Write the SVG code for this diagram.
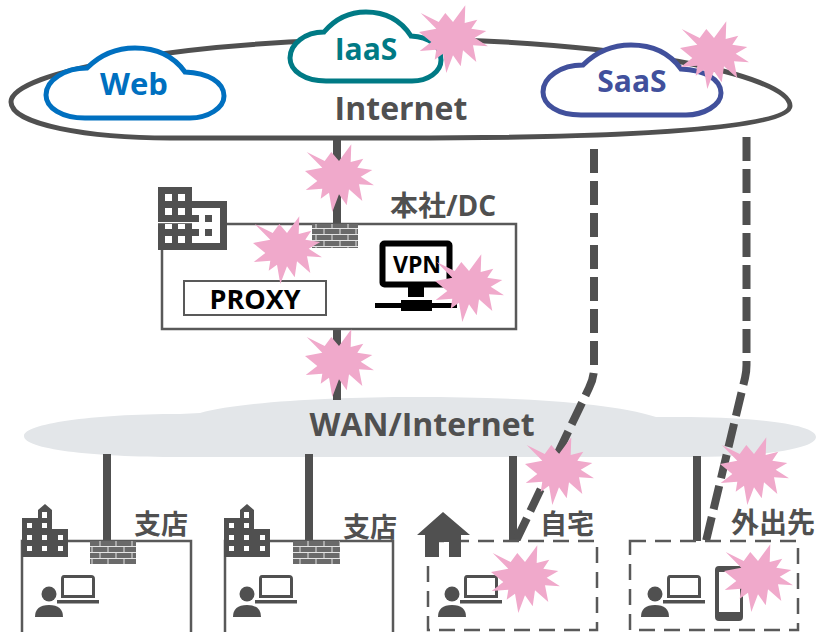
<svg xmlns="http://www.w3.org/2000/svg" width="816" height="632" viewBox="0 0 816 632">
<style>
text{font-family:"Open Sans","Noto Sans CJK JP","Noto Sans",sans-serif;font-weight:700;text-anchor:middle}
.line{fill:none;stroke:#505050;stroke-width:8}
.dash{stroke-dasharray:24 8}
.cloud{fill:#fff;stroke-width:5}
.box{fill:#fff;stroke:#595959;stroke-width:2.500}
.dbox{fill:#fff;stroke:#595959;stroke-width:2.500;stroke-dasharray:16 9}
.ic{fill:#505050}
.w{fill:#fff}
.star{fill:#F0A9CB}
</style>
<defs>
<pattern id="brick" width="16" height="12" patternUnits="userSpaceOnUse">
<rect width="16" height="12" fill="#6a6a6a"/>
<path d="M0 .5H16M0 6.500H16M4 0V6M12 6V12" stroke="#e4e4e4" stroke-width="1" fill="none"/>
</pattern>
<polygon id="burst" class="star" points="-32.300,-24 -14.300,-15 -7.700,-24 0,-15 12.300,-31.700 11.700,-14 24.300,-17.300 18.300,-8.300 33.300,-6 21.700,.7 35,9.300 20,8.300 23.300,25 10,13.300 7.700,29.300 0,18.300 -6.700,36 -10,16.700 -18.300,22.700 -16.700,12.700 -33.300,14 -21.700,5 -34,-5 -16.700,-8.300"/>
<g id="user">
<path class="ic" fill-rule="evenodd" d="M64 575H91Q95 575 95 579V598H61V579Q61 575 64 575ZM64 578V595H92V578Z"/>
<rect class="ic" x="57" y="600" width="42" height="3.500"/>
<circle class="ic" cx="49" cy="594" r="7.500"/>
<path class="ic" d="M35 617Q35 605 49 605Q63 605 63 617Z"/>
</g>
<g id="tower">
<path class="ic" d="M22 518H38V510L45 504L52 510V529H68V557H22Z"/>
<g class="w">
<rect x="42" y="512" width="5" height="6"/>
<rect x="27" y="523" width="5" height="5"/><rect x="42" y="523" width="5" height="5"/>
<rect x="27" y="535" width="5" height="5"/><rect x="42" y="535" width="5" height="5"/><rect x="58" y="535" width="5" height="5"/>
<rect x="27" y="546" width="5" height="5"/><rect x="42" y="546" width="5" height="5"/><rect x="58" y="546" width="5" height="5"/>
</g>
</g>
</defs>

<g id="wan-cloud"><path fill="#E3E6E9" d="M24 436C24 424 90 414 180 414L200 413C240 402 330 397 416 397C510 397 610 402 656 417L690 417C770 418 816 426 816 437C816 449 760 457 690 457H180C90 457 24 449 24 436Z"/></g>

<g id="connectors">
<path class="line" d="M337 136V226M337 328V400"/>
<path class="line" d="M107 454V542M309 454V542M513 456V542M697 456V542"/>
<path class="line dash" d="M594 149V368Q594 378 589 388L516 541"/>
<path class="line dash" d="M746.500 137V365Q746.500 372 745 378L706 541"/>
</g>

<g id="internet">
<path fill="#fff" stroke="#505050" stroke-width="5" d="M11 102C11 72 180 40 400 39C620 40 790 75 790 106C790 128 640 138 400 138H170C90 138 11 125 11 102Z"/>
<text x="401" y="120" font-size="32" fill="#505050">Internet</text>
</g>

<g id="web"><path class="cloud" stroke="#0070C0" d="M87 68C100 55 115 48 135 48C160 48 175 58 185 72C208 73 224 82 224 96C224 108 208 118 190 118H85C62 118 46 108 46 95C46 80 65 68 87 68Z"/>
<text x="134" y="95" font-size="31" fill="#0070C0">Web</text></g>
<g id="iaas"><path class="cloud" stroke="#007A85" d="M324 32C335 19 348 12 366 12C388 12 402 22 411 36C430 37 441 46 441 60C441 72 428 81 412 81H326C305 81 290 71 290 58C290 44 305 32 324 32Z"/>
<text x="366" y="60" font-size="30" fill="#007A85">IaaS</text></g>
<g id="saas"><path class="cloud" stroke="#41509C" d="M583 65C596 52 611 45 631 45C656 45 671 55 681 69C704 70 721 79 721 93C721 105 704 115 686 115H581C558 115 543 105 543 92C543 77 561 65 583 65Z"/>
<text x="632" y="92" font-size="30" fill="#41509C">SaaS</text></g>

<g id="hq">
<rect class="box" x="162" y="224" width="354" height="105"/>
<rect x="312" y="224" width="46" height="24" fill="url(#brick)"/>
<g id="hq-building">
<path class="ic" d="M158 187H192V201H227V250H158Z"/>
<g class="w">
<rect x="165" y="194" width="7" height="7"/><rect x="178" y="194" width="7" height="7"/>
<rect x="165" y="208" width="7" height="7"/><rect x="178" y="208" width="7" height="7"/>
<rect x="165" y="224" width="7" height="5"/><rect x="178" y="224" width="7" height="5"/>
<rect x="165" y="236" width="7" height="7"/><rect x="178" y="236" width="7" height="7"/>
<path d="M192 208H220V243H192V236H199V229H192V222H199V215H192Z"/>
<rect x="158" y="222" width="34" height="1.200"/>
</g>
<g class="ic"><rect x="205" y="215" width="7" height="7"/><rect x="205" y="229" width="7" height="7"/></g>
</g>
<rect x="184" y="281" width="142" height="34" fill="#fff" stroke="#595959" stroke-width="2"/>
<text x="255" y="309" font-size="27" fill="#000">PROXY</text>
<g id="vpn">
<rect x="382.500" y="243.500" width="67" height="41" rx="2" fill="#fff" stroke="#000" stroke-width="6"/>
<rect x="408" y="287" width="16" height="10" fill="#000"/>
<rect x="375" y="303" width="82" height="5" fill="#000"/>
<rect x="401" y="300" width="31" height="11" fill="#000"/>
<text x="417" y="273" font-size="23" fill="#000">VPN</text>
</g>
<text x="443" y="216" font-size="28" fill="#505050">本社/DC</text>
</g>

<g id="branch1">
<rect class="box" x="22" y="541" width="169" height="95"/>
<rect x="90" y="541" width="46" height="23" fill="url(#brick)"/>
<use href="#tower"/><use href="#user"/>
<text x="161" y="534" font-size="27" fill="#505050">支店</text>
</g>
<g id="branch2">
<rect class="box" x="225" y="541" width="168" height="95"/>
<rect x="293" y="541" width="47" height="23" fill="url(#brick)"/>
<use href="#tower" x="202"/><use href="#user" x="198"/>
<text x="370" y="537" font-size="27" fill="#505050">支店</text>
</g>
<g id="home">
<rect class="dbox" x="428" y="541" width="169" height="89"/>
<path class="ic" d="M443 512L470 535H461V557H449V542H439V557H425V535H417Z"/>
<use href="#user" x="403"/>
<text x="567" y="534" font-size="27" fill="#505050">自宅</text>
</g>
<g id="mobile">
<rect class="dbox" x="630" y="541" width="168" height="89"/>
<use href="#user" x="606"/>
<path class="ic" fill-rule="evenodd" d="M719 566H739Q743 566 743 570V617Q743 621 739 621H719Q715 621 715 617V570Q715 566 719 566ZM719 572V612H740V572Z"/>
<text x="773" y="533" font-size="28" fill="#505050">外出先</text>
</g>

<g id="threats">
<use href="#burst" x="453" y="37"/>
<use href="#burst" x="714" y="53"/>
<use href="#burst" x="339" y="176"/>
<use href="#burst" x="287" y="248"/>
<use href="#burst" x="469" y="286"/>
<use href="#burst" x="339" y="361"/>
<use href="#burst" x="559" y="469"/>
<use href="#burst" x="754" y="469"/>
<use href="#burst" x="525" y="577"/>
<use href="#burst" x="758" y="576"/>
</g>
<text x="422" y="436" font-size="32" fill="#505050">WAN/Internet</text>
</svg>
